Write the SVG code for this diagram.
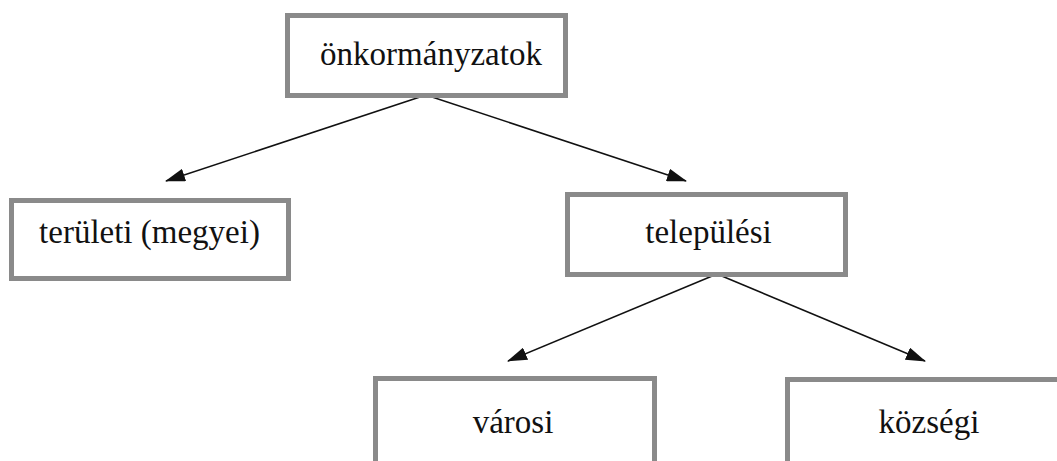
<svg xmlns="http://www.w3.org/2000/svg" width="1057" height="461" viewBox="0 0 1057 461">
<style>
.box{fill:#fff;stroke:#8a8a8a;stroke-width:5}
.lbl{font-family:'Liberation Serif','Times New Roman',Times,Tinos,'DejaVu Serif','Noto Serif',FreeSerif,serif;font-size:33px;fill:#111;text-anchor:middle}
.con{stroke:#111;stroke-width:1.5;fill:none;marker-end:url(#ah)}
</style>
<defs>
<marker id="ah" viewBox="0 0 20 13" refX="19" refY="6.5" markerWidth="20" markerHeight="13" markerUnits="userSpaceOnUse" orient="auto">
<path d="M0,0 L20,6.5 L0,13 Z" fill="#111"/>
</marker>
</defs>
<rect width="1057" height="461" fill="#fff"/>
<g id="connectors">
<path class="con" d="M426,95 L166,181"/>
<path class="con" d="M426,95 L686,181"/>
<path class="con" d="M717,274 L508,361"/>
<path class="con" d="M717,274 L925,361"/>
</g>
<g id="onkormanyzatok">
<rect class="box" x="287.5" y="15.5" width="278" height="80"/>
<text class="lbl" x="431" y="65">önkormányzatok</text>
</g>
<g id="teruleti">
<rect class="box" x="11.5" y="200.5" width="277" height="78"/>
<text class="lbl" x="149.5" y="243">területi (megyei)</text>
</g>
<g id="telepulesi">
<rect class="box" x="567.5" y="194.5" width="278" height="80"/>
<text class="lbl" x="708.5" y="243">települési</text>
</g>
<g id="varosi">
<rect class="box" x="375.5" y="378.5" width="279" height="100"/>
<text class="lbl" x="513" y="433">városi</text>
</g>
<g id="kozsegi">
<rect class="box" x="787.5" y="379.5" width="290" height="100"/>
<text class="lbl" x="929" y="433">községi</text>
</g>
</svg>
